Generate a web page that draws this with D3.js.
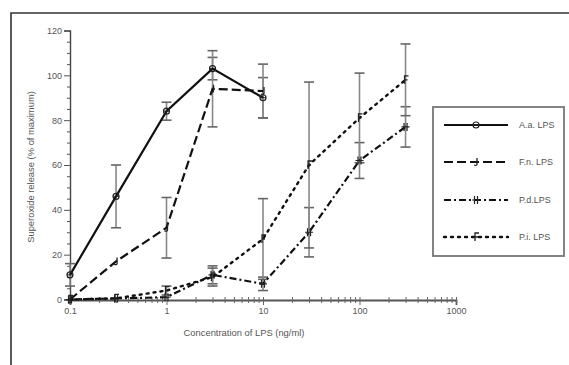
<!DOCTYPE html>
<html><head><meta charset="utf-8">
<script src="https://cdn.jsdelivr.net/npm/d3@7"></script>
<style>
body{margin:0;background:#fff;}
text{font-family:"Liberation Sans",Arial,sans-serif;fill:#555;}
</style></head>
<body><svg id="c" width="569" height="365"></svg>
<script>
const concentrations = [0.1, 0.3, 1, 3, 10, 30, 100, 300];
const seriesNames = ["A.a. LPS", "F.n. LPS", "P.d.LPS", "P.i. LPS"];
const aaValues = [11, 46, 84, 103, 90];
const aaErrors = [5, 14, 4, 5, 9];
const fnValues = [0, 17, 32, 94, 93];
const fnErrors = [0, 1, 13.5, 17, 12];
const pdValues = [0, 0.5, 1, 11, 7, 30, 62, 77];
const pdErrors = [0, 0.5, 1, 4, 3, 11, 8, 9];
const piValues = [0, 0.5, 4, 10, 27, 60, 81, 98];
const piErrors = [0, 0.5, 2, 4, 18, 37, 20, 16];
const yTicks = [0, 20, 40, 60, 80, 100, 120];
const xTicks = [0.1, 1, 10, 100, 1000];
const xTickLabels = ["0.1", "1", "10", "100", "1000"];
const yTitle = "Superoxide release (% of maximum)";
const xTitle = "Concentration of LPS (ng/ml)";

const svg = d3.select("#c");
const x = d3.scaleLog().domain([0.1, 1000]).range([70, 456]);
const y = d3.scaleLinear().domain([0, 120]).range([299.5, 30.5]);

// outer frame
svg.append("path").attr("d", "M11,365 L11,13 L569,13").attr("fill", "none")
  .attr("stroke", "#333").attr("stroke-width", 1.6);

const styles = [
  {dash: null, w: 2.2},
  {dash: "9,4", w: 2.2},
  {dash: "7,3,2,3", w: 2.2},
  {dash: "2,5", w: 2.4}
];
const series = [
  {vals: aaValues, errs: aaErrors},
  {vals: fnValues, errs: fnErrors},
  {vals: pdValues, errs: pdErrors},
  {vals: piValues, errs: piErrors}
];

// y axis
const yAxis = svg.append("g").attr("transform", "translate(70,0)");
yAxis.call(d3.axisLeft(y).tickValues(yTicks).tickSize(6).tickFormat(d3.format("d")));
yAxis.append("g").call(d3.axisLeft(y).tickValues(d3.range(0, 121, 5).filter(v => v % 20)).tickSize(3).tickFormat(""));
yAxis.selectAll(".domain").attr("stroke", "#444").attr("stroke-width", 1.4);
yAxis.selectAll("line").attr("stroke", "#555").attr("stroke-width", 1);
yAxis.selectAll("text").attr("font-size", 9).attr("fill", "#555").attr("x", -8);
yAxis.selectAll("g g .domain").remove();

// x axis
const xAxis = svg.append("g").attr("transform", "translate(0,300)");
xAxis.call(d3.axisBottom(x).tickValues(xTicks).tickSize(5).tickFormat((d, i) => xTickLabels[i]));
const minor = [];
[0.1, 1, 10, 100].forEach(b => { for (let k = 2; k <= 9; k++) minor.push(b * k); });
xAxis.append("g").call(d3.axisBottom(x).tickValues(minor).tickSize(3).tickFormat(""));
xAxis.selectAll(".domain").attr("stroke", "#555").attr("stroke-width", 1.8);
xAxis.selectAll("line").attr("stroke", "#666").attr("stroke-width", 1).attr("y1", -3);
xAxis.selectAll("text").attr("font-size", 9).attr("fill", "#555").attr("y", 8);
xAxis.selectAll("g g .domain").remove();

// axis titles
svg.append("text").attr("transform", "translate(34," + ((y(0) + y(120)) / 2 + 2) + ") rotate(-90)")
  .attr("text-anchor", "middle").attr("font-size", 9.4).text(yTitle);
svg.append("text").attr("x", 244).attr("y", 336).attr("text-anchor", "middle")
  .attr("font-size", 9.4).text(xTitle);

// markers
function marker(g, idx, cx, cy) {
  const c = "#222";
  if (idx === 0) {
    g.append("circle").attr("cx", cx).attr("cy", cy).attr("r", 3).attr("fill", "none").attr("stroke", c).attr("stroke-width", 1.2);
    g.append("line").attr("x1", cx - 3).attr("x2", cx + 3).attr("y1", cy).attr("y2", cy).attr("stroke", c).attr("stroke-width", 1);
  } else if (idx === 1) {
    g.append("path").attr("d", `M${cx+1},${cy-4} L${cx+1},${cy+2} Q${cx+1},${cy+4} ${cx-2},${cy+3}`).attr("fill", "none").attr("stroke", c).attr("stroke-width", 1.3);
  } else if (idx === 2) {
    g.append("path").attr("d", `M${cx-1.5},${cy-4}V${cy+4}M${cx+1.5},${cy-4}V${cy+4}M${cx-4},${cy}H${cx+4}`).attr("fill", "none").attr("stroke", c).attr("stroke-width", 1.2);
  } else {
    g.append("path").attr("d", `M${cx-1},${cy+4}V${cy-4}H${cx+3}M${cx-1},${cy}H${cx+2}`).attr("fill", "none").attr("stroke", c).attr("stroke-width", 1.3);
  }
}

// error bars
series.forEach((s, si) => {
  const g = svg.append("g");
  s.vals.forEach((v, i) => {
    const e = s.errs[i];
    if (e < 1.5) return;
    const cx = x(concentrations[i]);
    g.append("line").attr("x1", cx).attr("x2", cx).attr("y1", y(v - e)).attr("y2", y(v + e))
      .attr("stroke", "#888").attr("stroke-width", 1.6);
    [v - e, v + e].forEach(t => g.append("line").attr("x1", cx - 5).attr("x2", cx + 5)
      .attr("y1", y(t)).attr("y2", y(t)).attr("stroke", "#666").attr("stroke-width", 1.6));
  });
});

// lines
const line = d3.line().x((d, i) => x(concentrations[i])).y(d => y(d));
series.forEach((s, si) => {
  svg.append("path").attr("d", line(s.vals)).attr("fill", "none").attr("stroke", "#111")
    .attr("stroke-width", styles[si].w).attr("stroke-dasharray", styles[si].dash)
    .attr("stroke-linecap", si === 3 ? "round" : "butt");
  const g = svg.append("g");
  s.vals.forEach((v, i) => marker(g, si, x(concentrations[i]), y(v)));
});

// legend
const lg = svg.append("g");
lg.append("rect").attr("x", 433).attr("y", 107).attr("width", 131).attr("height", 149)
  .attr("fill", "#fff").attr("stroke", "#777").attr("stroke-width", 1.8);
const rowsY = [125, 162, 200, 237];
seriesNames.forEach((n, i) => {
  lg.append("line").attr("x1", 444).attr("x2", 508).attr("y1", rowsY[i]).attr("y2", rowsY[i])
    .attr("stroke", "#111").attr("stroke-width", styles[i].w).attr("stroke-dasharray", styles[i].dash)
    .attr("stroke-linecap", i === 3 ? "round" : "butt");
  marker(lg, i, 476, rowsY[i]);
  lg.append("text").attr("x", 519).attr("y", rowsY[i] + 3).attr("font-size", 9).text(n);
});
</script></body></html>
